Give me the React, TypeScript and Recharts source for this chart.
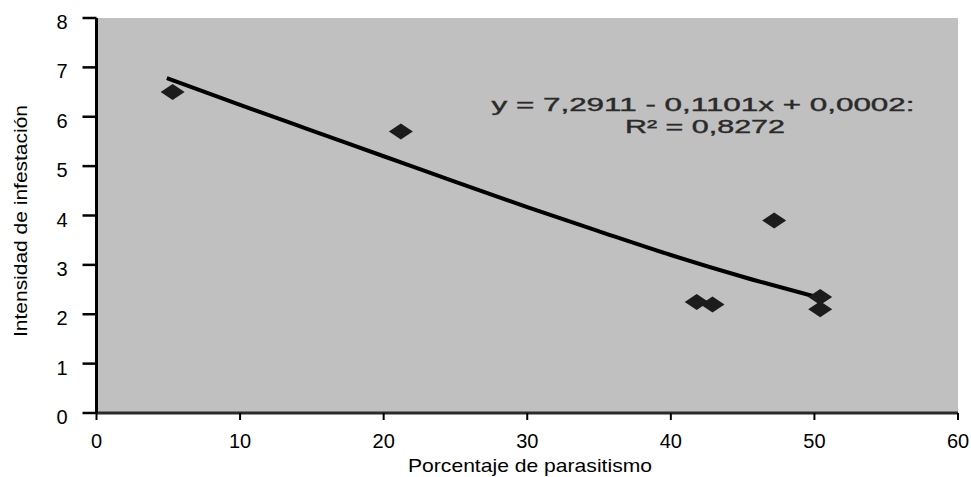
import React from "react";
import {
  ComposedChart,
  Scatter,
  Line,
  XAxis,
  YAxis,
  CartesianGrid,
  Customized,
} from "recharts";

// Observed points: Porcentaje de parasitismo (x) vs Intensidad de infestación (y)
const parasitismo = [5.3, 21.2, 47.2, 41.8, 42.9, 50.4, 50.4];
const intensidad = [6.5, 5.7, 3.9, 2.25, 2.2, 2.35, 2.1];

// Trend line
const trendX = [4.9, 10, 15, 20, 25, 30, 35, 40, 45, 50.4];
const trendY = [6.78, 6.24, 5.72, 5.2, 4.68, 4.17, 3.68, 3.2, 2.76, 2.33];

const xTicks = [0, 10, 20, 30, 40, 50, 60];
const yTicks = [0, 1, 2, 3, 4, 5, 6, 7, 8];

const xTitle = "Porcentaje de parasitismo";
const yTitle = "Intensidad de infestación";
const equationLine1 = "y =  7,2911 - 0,1101x + 0,0002:";
const equationLine2 = "R² = 0,8272";

const points = parasitismo.map((x, i) => ({ x, y: intensidad[i] }));
const trend = trendX.map((x, i) => ({ x, y: trendY[i] }));

const FONT = "'Liberation Sans', Arial, sans-serif";

const Diamond = (props: any) => {
  const { cx, cy } = props;
  if (cx == null || cy == null) return null;
  const hw = 12;
  const hh = 8;
  return (
    <polygon
      points={`${cx - hw},${cy} ${cx},${cy - hh} ${cx + hw},${cy} ${cx},${cy + hh}`}
      fill="#1c1c1c"
    />
  );
};

const YTick = (props: any) => {
  const { x, y, payload } = props;
  return (
    <text x={x} y={y} dy={11} textAnchor="end" fontSize={20} fontFamily={FONT} fill="#000">
      {payload.value}
    </text>
  );
};

const XTick = (props: any) => {
  const { x, y, payload } = props;
  return (
    <text x={x} y={y} dy={28} textAnchor="middle" fontSize={20} fontFamily={FONT} fill="#000">
      {payload.value}
    </text>
  );
};

const Annotations = () => (
  <g fontFamily={FONT}>
    <text x={530} y={472} textAnchor="middle" fontSize={19} fill="#000" textLength={244} lengthAdjust="spacingAndGlyphs">
      {xTitle}
    </text>
    <text
      x={0}
      y={0}
      transform="translate(27,221) rotate(-90)"
      textAnchor="middle"
      fontSize={18}
      fill="#000"
      textLength={232}
      lengthAdjust="spacingAndGlyphs"
    >
      {yTitle}
    </text>
    <text
      x={703}
      y={111}
      textAnchor="middle"
      fontSize={19}
      fill="#2a2a2a"
      stroke="#2a2a2a"
      strokeWidth={0.4}
      textLength={423}
      lengthAdjust="spacingAndGlyphs"
    >
      {equationLine1}
    </text>
    <text
      x={705}
      y={133}
      textAnchor="middle"
      fontSize={19}
      fill="#2a2a2a"
      stroke="#2a2a2a"
      strokeWidth={0.4}
      textLength={160}
      lengthAdjust="spacingAndGlyphs"
    >
      {equationLine2}
    </text>
  </g>
);

export default function App() {
  return (
    <div style={{ position: "fixed", left: 0, top: 0, width: 971, height: 477, background: "#fff" }}>
      <ComposedChart
        width={971}
        height={477}
        margin={{ top: 18, right: 13, left: 0, bottom: 0 }}
      >
        <CartesianGrid fill="#c0c0c0" horizontal={false} vertical={false} />
        <XAxis
          xAxisId="top"
          orientation="top"
          type="number"
          domain={[0, 60]}
          height={0}
          tick={false}
          tickLine={false}
          axisLine={{ stroke: "#8c8c8c", strokeWidth: 1.5 }}
        />
        <YAxis
          yAxisId="right"
          orientation="right"
          type="number"
          domain={[0, 8]}
          width={0}
          tick={false}
          tickLine={false}
          axisLine={{ stroke: "#7a7a7a", strokeWidth: 2 }}
        />
        <XAxis
          dataKey="x"
          type="number"
          domain={[0, 60]}
          ticks={xTicks}
          interval={0}
          height={64}
          tickSize={7}
          tickMargin={0}
          tick={<XTick />}
          tickLine={{ stroke: "#000", strokeWidth: 2 }}
          axisLine={{ stroke: "#2a2a2a", strokeWidth: 3 }}
          allowDataOverflow
        />
        <YAxis
          dataKey="y"
          type="number"
          domain={[0, 8]}
          ticks={yTicks}
          interval={0}
          width={96.5}
          tickSize={14}
          tickMargin={15}
          tick={<YTick />}
          tickLine={{ stroke: "#000", strokeWidth: 2.5 }}
          axisLine={{ stroke: "#000", strokeWidth: 3 }}
          allowDataOverflow
        />
        <Line
          data={trend}
          dataKey="y"
          type="monotone"
          stroke="#000"
          strokeWidth={4}
          dot={false}
          activeDot={false}
          isAnimationActive={false}
        />
        <Scatter data={points} dataKey="y" shape={<Diamond />} isAnimationActive={false} />
        <Customized component={Annotations} />
      </ComposedChart>
    </div>
  );
}
